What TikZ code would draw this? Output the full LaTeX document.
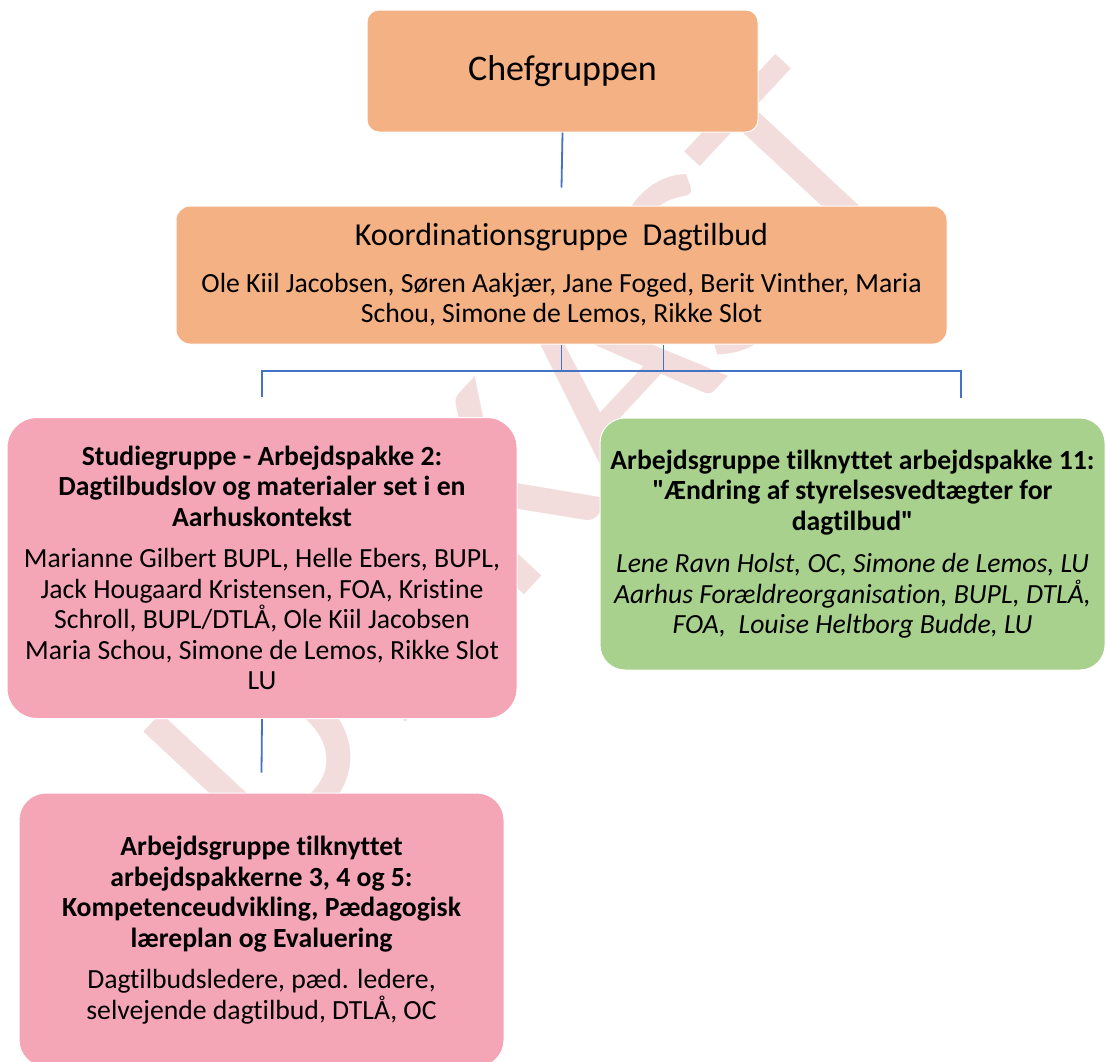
\documentclass[tikz,border=0pt]{standalone}
\usepackage{fontspec}
\setmainfont{Carlito}[Ligatures=NoCommon]
\usepackage{xcolor}

\definecolor{chefgruppe}{RGB}{244,177,131}
\definecolor{studiegruppe}{RGB}{244,166,183}
\definecolor{arbgruppe}{RGB}{169,209,142}
\definecolor{streg}{RGB}{68,114,196}
\definecolor{udkast}{RGB}{242,220,220}

\tikzset{
  gruppe/.style={draw=white, line width=1pt, align=center, inner sep=0pt,
    font=\fontsize{27.7}{30.5}\selectfont},
  link/.style={draw=streg, line width=1.8pt},
}

\begin{document}
\begin{tikzpicture}[x=1pt,y=-1pt]
    \clip (0,0) rectangle (1106,1061);

    % Watermark
    \node[text=udkast, rotate=47, inner sep=0pt,
      font=\fontsize{288}{288}\selectfont] (wm) at (522,462) {UDKAST};

    % Groups
    \node[gruppe, fill=chefgruppe, rounded corners=12pt,
      minimum width=391pt, minimum height=122pt,
      font=\fontsize{36}{40}\selectfont] (chef) at (562.5,71) {Chefgruppen};

    \node[gruppe, fill=chefgruppe, rounded corners=14pt,
      minimum width=771pt, minimum height=138pt] (koord) at (561.5,275)
      {{\fontsize{32}{36}\selectfont Koordinationsgruppe\ \ Dagtilbud}\\[16pt]
       Ole Kiil Jacobsen, Søren Aakjær, Jane Foged, Berit Vinther, Maria\\
       Schou, Simone de Lemos, Rikke Slot};

    \node[gruppe, fill=studiegruppe, rounded corners=30pt,
      minimum width=510pt, minimum height=301pt] (studie) at (262,568)
      {\textbf{Studiegruppe - Arbejdspakke 2:}\\
       \textbf{Dagtilbudslov og materialer set i en}\\
       \textbf{Aarhuskontekst}\\[11pt]
       Marianne Gilbert BUPL, Helle Ebers, BUPL,\\
       Jack Hougaard Kristensen, FOA, Kristine\\
       Schroll, BUPL/DTLÅ, Ole Kiil Jacobsen\\
       Maria Schou, Simone de Lemos, Rikke Slot\\
       LU};

    \node[gruppe, fill=arbgruppe, rounded corners=25pt,
      minimum width=505pt, minimum height=252pt] (vedtaegt) at (852.5,544)
      {\textbf{Arbejdsgruppe tilknyttet arbejdspakke 11:}\\
       \textbf{\textquotedbl Ændring af styrelsesvedtægter for}\\
       \textbf{dagtilbud\textquotedbl}\\[12pt]
       \textit{Lene Ravn Holst, OC, Simone de Lemos, LU}\\
       \textit{Aarhus Forældreorganisation, BUPL, DTLÅ,}\\
       \textit{FOA,\ \ Louise Heltborg Budde, LU}};

    \node[gruppe, fill=studiegruppe, rounded corners=27pt,
      minimum width=485pt, minimum height=274pt] (laereplan) at (261.5,930)
      {\textbf{Arbejdsgruppe tilknyttet}\\
       \textbf{arbejdspakkerne 3, 4 og 5:}\\
       \textbf{Kompetenceudvikling, Pædagogisk}\\
       \textbf{læreplan og Evaluering}\\[11pt]
       Dagtilbudsledere, pæd. ledere,\\
       selvejende dagtilbud, DTLÅ, OC};

    % Connectors
    \coordinate (gren) at (0,371);
    \coordinate (vtop) at (961,398);
    \draw[link] (chef.south) -- ([yshift=18pt]koord.north);
    \draw[link] (koord.south) -- (koord.south |- gren);
    \draw[link] ([xshift=102pt]koord.south) -- ([xshift=102pt]koord.south |- gren);
    \draw[link] ([yshift=20pt]studie.north) |- (gren -| vtop) -- (vtop);
    \draw[link] (studie.south) -- ([yshift=20pt]laereplan.north);
\end{tikzpicture}
\end{document}
